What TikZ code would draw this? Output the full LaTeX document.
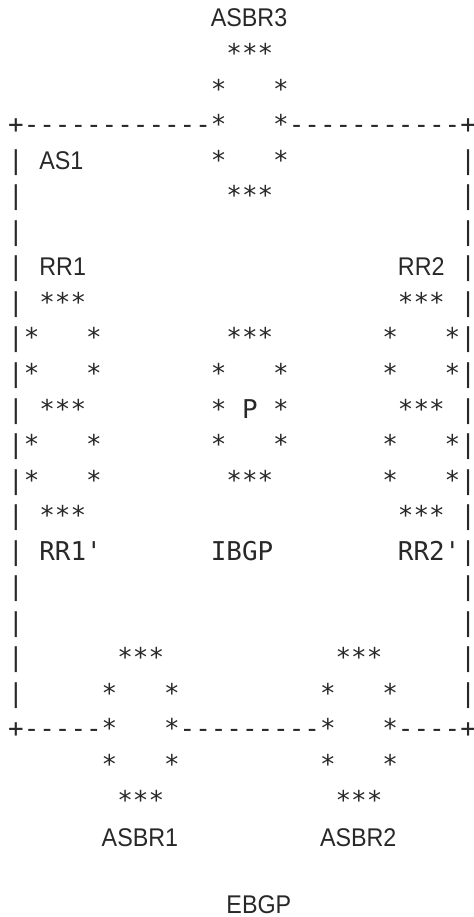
\documentclass[tikz,border=0pt]{standalone}
\usepackage{fontspec}
\newfontfamily\monofam{DejaVu Sans Mono}
\newfontfamily\sansfam{Liberation Sans}
\definecolor{ink}{RGB}{40,40,40}
\tikzset{
  mono/.style={anchor=base west, inner sep=0pt, outer sep=0pt, text=ink,
    font=\monofam\fontsize{19.42pt}{19.42pt}\selectfont},
  lbl/.style={anchor=base west, inner sep=0pt, outer sep=0pt, text=ink,
    font=\sansfam\fontsize{19.2pt}{19.2pt}\selectfont},
}
\newcommand\mcell[4]{\node[mono] (#1) at ({8.2+15.59*(#2)},{26.95+35.55*(#3)}) {#4};}
\newcommand\lcell[4]{\node[lbl] (#1) at ({8.2+15.59*(#2)},{26.95+35.55*(#3)}) {\scalebox{0.91}[1]{#4}};}
\begin{document}
\begin{tikzpicture}[x=0.75pt,y=-0.75pt]
\useasboundingbox (0,0) rectangle (474,917);
% ASBR3
\lcell{asbr3}{13}{0}{ASBR3}
\mcell{a3t}{14}{1}{***}
\mcell{a3l1}{13}{2}{*} \mcell{a3r1}{17}{2}{*}
\mcell{a3l2}{13}{3}{*} \mcell{a3r2}{17}{3}{*}
\mcell{a3l3}{13}{4}{*} \mcell{a3r3}{17}{4}{*}
\mcell{a3b}{14}{5}{***}
% top border
\mcell{tl}{0}{3}{+} \mcell{tr}{29}{3}{+}
\foreach \c in {1,...,12} {\mcell{tdl\c}{\c}{3}{-}}
\foreach \c in {18,...,28} {\mcell{tdr\c}{\c}{3}{-}}
% side borders
\foreach \r in {4,...,19} {\mcell{lb\r}{0}{\r}{|} \mcell{rb\r}{29}{\r}{|}}
% bottom border
\mcell{bl}{0}{20}{+} \mcell{br}{29}{20}{+}
\foreach \c in {1,...,5} {\mcell{bda\c}{\c}{20}{-}}
\foreach \c in {11,...,19} {\mcell{bdb\c}{\c}{20}{-}}
\foreach \c in {25,...,28} {\mcell{bdc\c}{\c}{20}{-}}
\lcell{as1}{2}{4}{AS1}
% RR1
\lcell{rr1}{2}{7}{RR1}
\mcell{r1a}{2}{8}{***}
\mcell{r1b}{1}{9}{*} \mcell{r1c}{5}{9}{*}
\mcell{r1d}{1}{10}{*} \mcell{r1e}{5}{10}{*}
\mcell{r1f}{2}{11}{***}
\mcell{r1g}{1}{12}{*} \mcell{r1h}{5}{12}{*}
\mcell{r1i}{1}{13}{*} \mcell{r1j}{5}{13}{*}
\mcell{r1k}{2}{14}{***}
\mcell{rr1p}{2}{15}{RR1\textquotesingle}
% RR2
\lcell{rr2}{25}{7}{RR2}
\mcell{r2a}{25}{8}{***}
\mcell{r2b}{24}{9}{*} \mcell{r2c}{28}{9}{*}
\mcell{r2d}{24}{10}{*} \mcell{r2e}{28}{10}{*}
\mcell{r2f}{25}{11}{***}
\mcell{r2g}{24}{12}{*} \mcell{r2h}{28}{12}{*}
\mcell{r2i}{24}{13}{*} \mcell{r2j}{28}{13}{*}
\mcell{r2k}{25}{14}{***}
\mcell{rr2p}{25}{15}{RR2\textquotesingle}
% P
\mcell{pa}{14}{9}{***}
\mcell{pb}{13}{10}{*} \mcell{pc}{17}{10}{*}
\mcell{pd}{13}{11}{*} \mcell{p}{15}{11}{P} \mcell{pe}{17}{11}{*}
\mcell{pf}{13}{12}{*} \mcell{pg}{17}{12}{*}
\mcell{ph}{14}{13}{***}
\mcell{ibgp}{13}{15}{IBGP}
% ASBR1
\mcell{a1a}{7}{18}{***}
\mcell{a1b}{6}{19}{*} \mcell{a1c}{10}{19}{*}
\mcell{a1d}{6}{20}{*} \mcell{a1e}{10}{20}{*}
\mcell{a1f}{6}{21}{*} \mcell{a1g}{10}{21}{*}
\mcell{a1h}{7}{22}{***}
\lcell{asbr1}{6}{23.05}{ASBR1}
% ASBR2
\mcell{a2a}{21}{18}{***}
\mcell{a2b}{20}{19}{*} \mcell{a2c}{24}{19}{*}
\mcell{a2d}{20}{20}{*} \mcell{a2e}{24}{20}{*}
\mcell{a2f}{20}{21}{*} \mcell{a2g}{24}{21}{*}
\mcell{a2h}{21}{22}{***}
\lcell{asbr2}{20}{23.05}{ASBR2}
% EBGP
\lcell{ebgp}{14}{24.93}{EBGP}
\end{tikzpicture}
\end{document}
